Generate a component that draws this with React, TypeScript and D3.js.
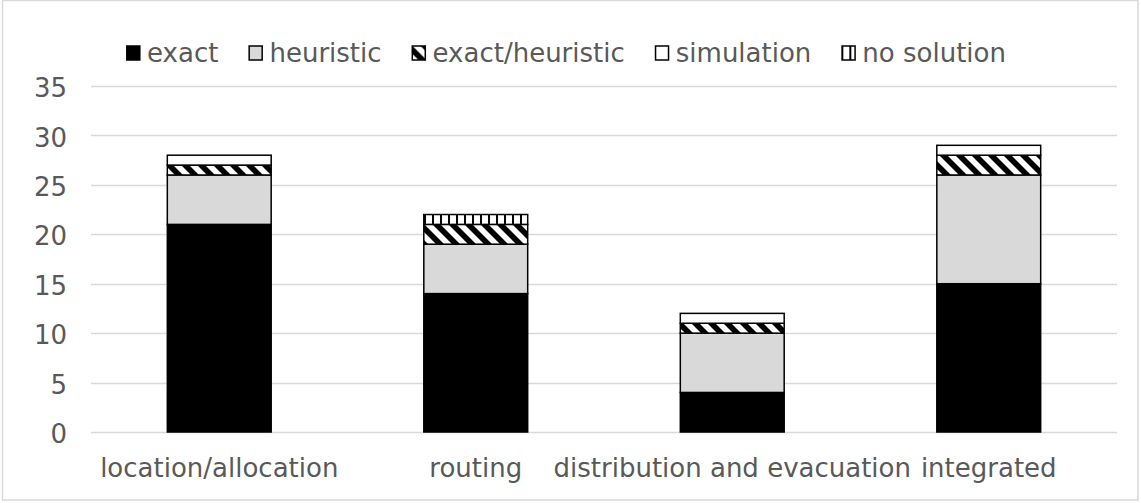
import React, { useEffect, useRef } from "react";
import * as d3 from "d3";

const categories = ["location/allocation", "routing", "distribution and evacuation", "integrated"];
const seriesNames = ["exact", "heuristic", "exact/heuristic", "simulation", "no solution"];
const exact = [21, 14, 4, 15];
const heuristic = [5, 5, 6, 11];
const exactHeuristic = [1, 2, 1, 2];
const simulation = [1, 0, 1, 1];
const noSolution = [0, 1, 0, 0];
const yTicks = [0, 5, 10, 15, 20, 25, 30, 35];

const W = 1141;
const H = 503;
const FONT = "'DejaVu Sans', Verdana, sans-serif";
const FS = 26;
const TEXT = "#595959";
const GRID = "#d9d9d9";

export default function App() {
  const ref = useRef<SVGSVGElement | null>(null);

  useEffect(() => {
    const svg = d3.select(ref.current!);
    svg.selectAll("*").remove();

    const defs = svg.append("defs");
    // wide downward diagonal stripes
    const diag = defs.append("pattern").attr("id", "pDiag").attr("patternUnits", "userSpaceOnUse")
      .attr("width", 16).attr("height", 16);
    diag.append("rect").attr("width", 16).attr("height", 16).attr("fill", "#fff");
    diag.append("path").attr("d", "M0,0 L8,0 L16,8 L16,16 Z M0,8 L8,16 L0,16 Z").attr("fill", "#000");
    // narrow vertical lines
    const vert = defs.append("pattern").attr("id", "pVert").attr("patternUnits", "userSpaceOnUse")
      .attr("width", 8).attr("height", 8);
    vert.append("rect").attr("width", 8).attr("height", 8).attr("fill", "#fff");
    vert.append("rect").attr("x", 0).attr("width", 2).attr("height", 8).attr("fill", "#000");

    const fills = ["#000000", "#d9d9d9", "url(#pDiag)", "#ffffff", "url(#pVert)"];
    const seriesData = [exact, heuristic, exactHeuristic, simulation, noSolution];

    // chart frame
    svg.append("rect").attr("x", 2.5).attr("y", 0.5).attr("width", 1135.5).attr("height", 499.5)
      .attr("fill", "#fff").attr("stroke", GRID).attr("stroke-width", 1.5);

    const x = d3.scaleBand<string>().domain(categories).range([91, 1117])
      .paddingInner(0.595).paddingOuter(0.2975);
    const y = d3.scaleLinear().domain([0, 35]).range([432, 86]);

    // gridlines
    svg.append("g").selectAll("line").data(yTicks).join("line")
      .attr("x1", 91).attr("x2", 1117)
      .attr("y1", (d) => Math.round(y(d)) + 0.5).attr("y2", (d) => Math.round(y(d)) + 0.5)
      .attr("stroke", GRID).attr("stroke-width", 1.5);

    // y tick labels
    svg.append("g").selectAll("text").data(yTicks).join("text")
      .attr("x", 67).attr("y", (d) => y(d) + 2).attr("dy", "0.35em")
      .attr("text-anchor", "end").attr("font-family", FONT).attr("font-size", FS)
      .attr("fill", TEXT).text((d) => String(d));

    // stacked bars
    const rows = categories.map((c, i) => {
      const r: Record<string, number | string> = { category: c };
      seriesNames.forEach((s, k) => (r[s] = seriesData[k][i]));
      return r;
    });
    const stack = d3.stack<Record<string, number | string>>().keys(seriesNames)
      .value((d, key) => d[key] as number);
    const layers = stack(rows);
    layers.forEach((layer, k) => {
      svg.append("g").selectAll("rect").data(layer.filter((seg) => seg[1] - seg[0] > 0)).join("rect")
        .attr("x", (seg) => x(seg.data.category as string)!)
        .attr("width", x.bandwidth())
        .attr("y", (seg) => y(seg[1]))
        .attr("height", (seg) => y(seg[0]) - y(seg[1]))
        .attr("fill", fills[k])
        .attr("stroke", "#000").attr("stroke-width", 1.5);
    });

    // category labels
    svg.append("g").selectAll("text").data(categories).join("text")
      .attr("x", (d) => x(d)! + x.bandwidth() / 2).attr("y", 477)
      .attr("text-anchor", "middle").attr("font-family", FONT).attr("font-size", FS)
      .attr("fill", TEXT).text((d) => d);

    // legend
    const lg = svg.append("g");
    const items = seriesNames.map((name, k) => {
      const g = lg.append("g");
      g.append("rect").attr("x", 0.75).attr("y", -7).attr("width", 13).attr("height", 14)
        .attr("fill", fills[k]).attr("stroke", "#000").attr("stroke-width", 1.5);
      const t = g.append("text").attr("x", 21).attr("y", 0).attr("dy", "0.35em")
        .attr("font-family", FONT).attr("font-size", FS).attr("fill", TEXT).text(name);
      const w = 21 + (t.node() as SVGTextElement).getComputedTextLength();
      return { g, w };
    });
    const gap = 30;
    const total = d3.sum(items, (it) => it.w) + gap * (items.length - 1);
    let cx = 566 - total / 2;
    items.forEach((it) => {
      it.g.attr("transform", `translate(${cx},53)`);
      cx += it.w + gap;
    });
  }, []);

  return (
    <svg ref={ref} width={W} height={H} style={{ position: "absolute", left: 0, top: 0 }} />
  );
}
